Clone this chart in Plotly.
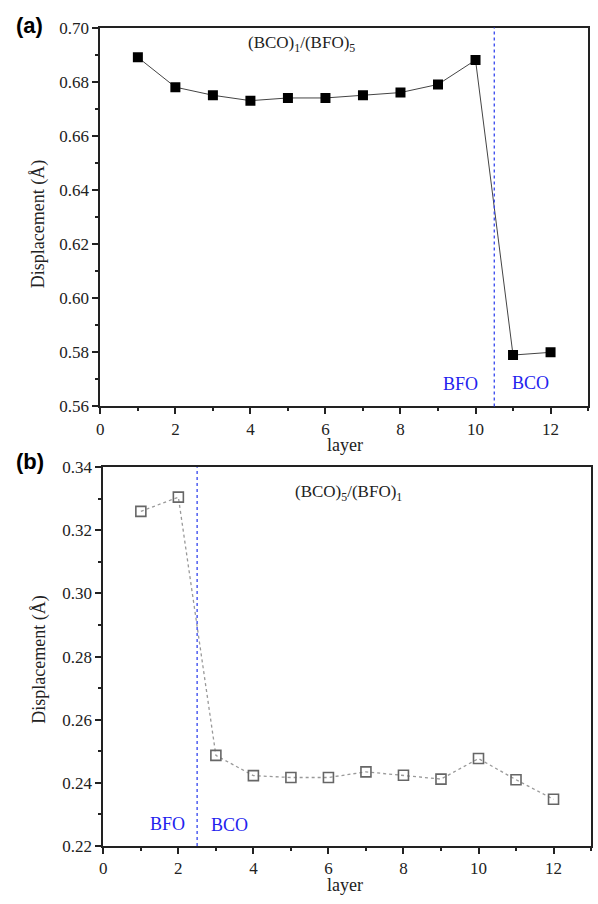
import plotly.graph_objects as go

layers = [1, 2, 3, 4, 5, 6, 7, 8, 9, 10, 11, 12]
disp_a = [0.689, 0.678, 0.675, 0.673, 0.674, 0.674, 0.675, 0.676, 0.679, 0.688, 0.579, 0.580]
disp_b = [0.326, 0.3305, 0.2487, 0.2423, 0.2417, 0.2417, 0.2435, 0.2424, 0.2412, 0.2477, 0.2410, 0.2348]
x_ticks = [0, 2, 4, 6, 8, 10, 12]
ya_ticks = [0.56, 0.58, 0.60, 0.62, 0.64, 0.66, 0.68, 0.70]
yb_ticks = [0.22, 0.24, 0.26, 0.28, 0.30, 0.32, 0.34]
iface_a = 10.5
iface_b = 2.5

W, H = 598, 904
def px(x): return x / W
def py(y): return 1 - y / H

SERIF = "Liberation Serif"

fig = go.Figure()
fig.add_trace(go.Scatter(x=layers, y=disp_a, mode="lines+markers",
                         line=dict(color="#444", width=1),
                         marker=dict(symbol="square", size=10, color="black"),
                         xaxis="x", yaxis="y", showlegend=False))
fig.add_trace(go.Scatter(x=layers, y=disp_b, mode="lines+markers",
                         line=dict(color="#999", width=1.3, dash="dot"),
                         marker=dict(symbol="square-open", size=10, color="#666",
                                     line=dict(width=1.6, color="#666")),
                         xaxis="x2", yaxis="y2", showlegend=False))

def xax(domain, anchor):
    return dict(domain=domain, anchor=anchor, range=[0, 13], tickmode="array",
                tickvals=x_ticks, ticktext=[str(v) for v in x_ticks],
                ticks="outside", ticklen=6, tickwidth=1.5,
                tickcolor="#222", showline=True, linecolor="#222", linewidth=1.8,
                mirror=True, showgrid=False, zeroline=False,
                minor=dict(ticks="outside", dtick=1, ticklen=3, tickwidth=1.5,
                           tickcolor="#222", showgrid=False))

def yax(domain, anchor, rng, vals):
    return dict(domain=domain, anchor=anchor, range=rng, tickmode="array",
                tickvals=vals, ticktext=[f"{v:.2f}" for v in vals],
                ticks="outside", ticklen=6, tickwidth=1.5, tickcolor="#222",
                showline=True, linecolor="#222", linewidth=1.8, mirror=True,
                showgrid=False, zeroline=False,
                minor=dict(ticks="outside", dtick=0.01, ticklen=3, tickwidth=1.5,
                           tickcolor="#222", showgrid=False))

fig.update_layout(
    width=W, height=H, autosize=False,
    margin=dict(l=0, r=0, t=0, b=0),
    font=dict(family=SERIF, size=17, color="#222"),
    paper_bgcolor="white", plot_bgcolor="white",
    xaxis=xax([px(97), px(588)], "y"),
    yaxis=yax([py(406), py(19)], "x", [0.56, 0.70], ya_ticks),
    xaxis2=xax([px(100), px(591)], "y2"),
    yaxis2=yax([py(855), py(468)], "x2", [0.22, 0.34], yb_ticks),
)
fig.update_xaxes(tickfont=dict(family=SERIF, size=17, color="#222"))
fig.update_yaxes(tickfont=dict(family=SERIF, size=17, color="#222"))

fig.add_shape(type="line", x0=iface_a, x1=iface_a, y0=0, y1=1, xref="x", yref="y domain",
              line=dict(color="#3344ee", width=1.3, dash="dot"))
fig.add_shape(type="line", x0=iface_b, x1=iface_b, y0=0, y1=1, xref="x2", yref="y2 domain",
              line=dict(color="#3344ee", width=1.3, dash="dot"))

blue = dict(family=SERIF, size=18, color="#2222ee")
dark = dict(family=SERIF, size=17, color="#222")
anns = [
    dict(x=px(460), y=py(383), text="BFO", font=blue),
    dict(x=px(530), y=py(382), text="BCO", font=blue),
    dict(x=px(165), y=py(833), text="BFO", font=blue),
    dict(x=px(227), y=py(834), text="BCO", font=blue),
    dict(x=px(300), y=py(36), text="(BCO)<sub>1</sub>/(BFO)<sub>5</sub>", font=dark),
    dict(x=px(347), y=py(494), text="(BCO)<sub>5</sub>/(BFO)<sub>1</sub>", font=dark),
    dict(x=px(343), y=py(445), text="layer", font=dict(dark, size=18)),
    dict(x=px(343), y=py(895), text="layer", font=dict(dark, size=18)),
    dict(x=px(35), y=py(220), text="Displacement (Å)", textangle=-90, font=dict(dark, size=18)),
    dict(x=px(35), y=py(665), text="Displacement (Å)", textangle=-90, font=dict(dark, size=18)),
    dict(x=px(26), y=py(17), text="<b>(a)</b>",
         font=dict(family="Liberation Sans", size=22, color="black")),
    dict(x=px(26), y=py(462), text="<b>(b)</b>",
         font=dict(family="Liberation Sans", size=22, color="black")),
]
for a in anns:
    a.update(xref="paper", yref="paper", showarrow=False, xanchor="center", yanchor="middle")
    fig.add_annotation(**a)

fig.write_html("out.html")
